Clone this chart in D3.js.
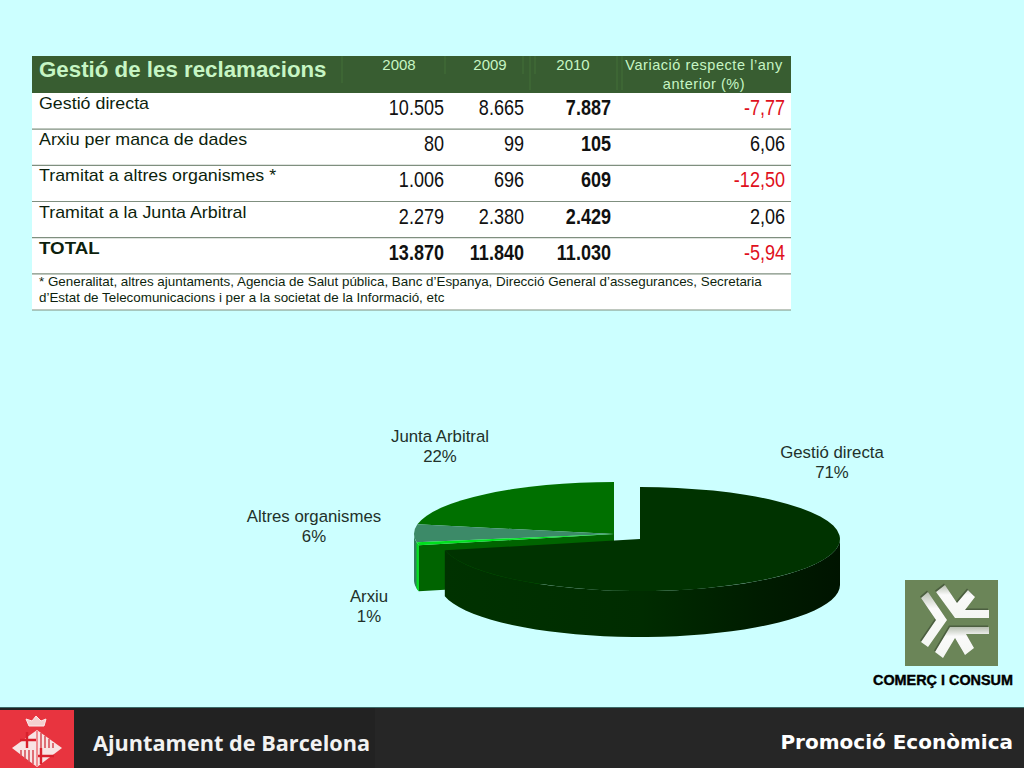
<!DOCTYPE html>
<html><head><meta charset="utf-8">
<script src="https://cdn.jsdelivr.net/npm/d3@7"></script>
<style>html,body{margin:0;padding:0;background:#ccffff;overflow:hidden}svg{display:block}text{font-family:"Liberation Sans",Arial,sans-serif}</style>
</head><body><svg id="c" width="1024" height="768"></svg>
<script>
const title = "Gestió de les reclamacions";
const years = ["2008","2009","2010"];
const varHeader = ["Variació respecte l’any","anterior (%)"];
const rowLabels = ["Gestió directa","Arxiu per manca de dades","Tramitat a altres organismes *","Tramitat a la Junta Arbitral","TOTAL"];
const v2008 = [10505,80,1006,2279,13870];
const v2009 = [8665,99,696,2380,11840];
const v2010 = [7887,105,609,2429,11030];
const variation = [-7.77,6.06,-12.50,2.06,-5.94];
const footnote = ["* Generalitat, altres ajuntaments, Agencia de Salut pública, Banc d’Espanya, Direcció General d’assegurances, Secretaria","d’Estat de Telecomunicacions i per a la societat de la Informació, etc"];
const pieNames = ["Gestió directa","Arxiu","Altres organismes","Junta Arbitral"];
const piePct = ["71%","1%","6%","22%"];
const pieValues = [7887,105,609,2429];
const pieColors = ["#003300","#00e01e","#3c8a68","#007000"];

const svg = d3.select("#c");
const loc = d3.formatLocale({decimal:",",thousands:".",grouping:[3],currency:["","€"],minus:"-"});
const fInt = loc.format(",d"), fDec = loc.format(".2f");

// table
const T = svg.append("g");
const X0=32, X1=791;
const rowY = d3.scaleLinear().domain([0,6]).range([93,310]);
T.append("rect").attr("x",X0).attr("y",93).attr("width",X1-X0).attr("height",217).attr("fill","#fff");
T.append("rect").attr("x",X0).attr("y",56).attr("width",X1-X0).attr("height",37).attr("fill","#385d31");
[[342,83],[445,74],[523,74],[530,90],[535,74],[617,90],[622,90]].forEach(([x,y2])=>T.append("line").attr("x1",x).attr("x2",x).attr("y1",56).attr("y2",y2).attr("stroke","#427038").attr("stroke-width",1));
T.append("text").attr("x",39).attr("y",77).attr("font-size",22.3).attr("font-weight","bold").attr("fill","#c6f5c4").text(title);
const yearX=[399,490,573];
years.forEach((y,i)=>T.append("text").attr("x",yearX[i]).attr("y",70).attr("text-anchor","middle").attr("font-size",15).attr("fill","#c6f5c4").text(y));
varHeader.forEach((t,i)=>T.append("text").attr("x",704).attr("y",[70,89][i]).attr("text-anchor","middle").attr("font-size",14.5).attr("letter-spacing",.55).attr("fill","#c6f5c4").text(t));
d3.range(1,7).forEach(i=>T.append("line").attr("x1",X0).attr("x2",X1).attr("y1",rowY(i)).attr("y2",rowY(i)).attr("stroke","#7f8f7f").attr("stroke-width",1.2));
const cell=(x,y,txt,bold,col)=>T.append("text").attr("transform",`translate(${x},${y}) scale(.82,1)`).attr("text-anchor","end").attr("font-size",22).attr("font-weight",bold?"bold":"normal").attr("fill",col).text(txt);
rowLabels.forEach((l,i)=>{
  const y=rowY(i), tot=i===4;
  T.append("text").attr("transform",`translate(39,${y+16}) scale(${tot?1.17:1.115},1)`).attr("font-size",16).attr("font-weight",tot?"bold":"normal").attr("fill","#0d1f0d").text(l);
  [[v2008,444,tot],[v2009,524,tot],[v2010,611,true]].forEach(([a,x,b])=>cell(x,y+22,fInt(a[i]),b,"#111"));
  cell(785,y+22,fDec(variation[i]),false,variation[i]<0?"#e0101c":"#111");
});
footnote.forEach((t,i)=>T.append("text").attr("x",39).attr("y",286+i*16).attr("font-size",13.4).attr("fill","#0d1f0d").text(t));

// pie
const arcs = d3.pie().sort(null).value(d=>d)(pieValues);
const RX=200, RY=52, D=46;
const px=d3.scaleLinear().domain([-1,1]).range([-RX,RX]);
const py=d3.scaleLinear().domain([-1,1]).range([-RY,RY]);
const unit=d3.arc().innerRadius(0).outerRadius(1);
const wall=(a0,a1)=>{
  const pts=d3.range(0,41).map(k=>a0+(a1-a0)*k/40).map(a=>[px(Math.sin(a)),py(-Math.cos(a))]);
  const line=d3.line();
  return line(pts)+"L"+line(pts.slice().reverse().map(p=>[p[0],p[1]+D])).slice(1)+"Z";
};
const scaleT=`scale(${RX},${RY})`;
const defs=svg.append("defs");
const gr=defs.append("linearGradient").attr("id","side");
[[0,"#003200"],[.5,"#002c00"],[.8,"#001c00"],[1,"#001400"]].forEach(s=>gr.append("stop").attr("offset",s[0]).attr("stop-color",s[1]));

const rest=svg.append("g").attr("transform","translate(614,534)");
const [dir,arx,alt,jun]=arcs;
const pt=a=>[px(Math.sin(a)),py(-Math.cos(a))];
const e=pt(arx.startAngle);
rest.append("path").attr("d",d3.line()([[0,0],e,[e[0],e[1]+D],[0,D]])+"Z").attr("fill","#006400");
rest.append("path").attr("d",wall(arx.startAngle,Math.PI*1.5)).attr("fill","#2f7f5c");
rest.append("path").attr("d",wall(arx.startAngle,arx.endAngle)).attr("fill",pieColors[1]);
[jun,alt,arx].forEach(s=>rest.append("path").attr("d",unit(s)).attr("transform",scaleT).attr("fill",pieColors[s.index]));

const main=svg.append("g").attr("transform","translate(640,539)");
main.append("path").attr("d",wall(Math.PI/2,dir.endAngle)).attr("fill","url(#side)");
main.append("path").attr("d",unit(dir)).attr("transform",scaleT).attr("fill",pieColors[0]);

// pie labels
const labelPos=[[832,458],[369,602],[314,522],[440,442]];
pieNames.forEach((n,i)=>{
  const g=svg.append("g").attr("text-anchor","middle").attr("font-size",16.8).attr("fill","#22312a");
  g.append("text").attr("x",labelPos[i][0]).attr("y",labelPos[i][1]).text(n);
  g.append("text").attr("x",labelPos[i][0]).attr("y",labelPos[i][1]+20).text(piePct[i]);
});

// logo
const L=svg.append("g");
L.append("rect").attr("x",905).attr("y",580).attr("width",93).attr("height",86).attr("fill","#6b8558");
const logoShapes=["M921 598L928 592L947 620L928 647L921 642L936 620Z","M936 592L945 585L957 603L968 590L975 597L965 610L989 610L989 618L955 618Z","M950 627L989 627L989 634L966 634L974 648L965 655L955 638L943 658L935 652Z"];
const lg=defs.append("linearGradient").attr("id","lg").attr("x1",0).attr("x2",0).attr("y1",0).attr("y2",1);
lg.append("stop").attr("offset",0).attr("stop-color","#b8c0b2");lg.append("stop").attr("offset",.3).attr("stop-color","#fafafa");lg.append("stop").attr("offset",1).attr("stop-color","#f4f6f2");
logoShapes.forEach(d=>{
  L.append("path").attr("d",d).attr("transform","translate(-1,-1.5)").attr("fill","#4c5f40");
  L.append("path").attr("d",d).attr("fill","url(#lg)");
});
L.append("text").attr("x",943).attr("y",685).attr("text-anchor","middle").attr("font-size",14.4).attr("font-weight","bold").attr("fill","#000").attr("stroke","#000").attr("stroke-width",.4).text("COMERÇ I CONSUM");

// footer
const F=svg.append("g");
F.append("rect").attr("x",0).attr("y",707).attr("width",1024).attr("height",1).attr("fill","#3c6a68");
F.append("rect").attr("x",0).attr("y",708).attr("width",1024).attr("height",60).attr("fill","#222");
F.append("rect").attr("x",375).attr("y",708).attr("width",649).attr("height",60).attr("fill","#262626");
F.append("rect").attr("x",0).attr("y",710).attr("width",74).attr("height",58).attr("fill","#e8343f");
F.append("path").attr("d","M37 730L62 748L37 767L12 748Z").attr("fill","#f8e4e4");
F.append("path").attr("d","M37 731V766").attr("stroke","#e8343f").attr("stroke-width",1);
F.append("path").attr("d","M27 732V748M20 740H36M41 748V764M38 756H54").attr("stroke","#d8202c").attr("stroke-width",2.4);
F.append("path").attr("d","M41 733V748M45 736V748M49 739V748M53 743V748M21 750V756M25 750V759M29 750V762M33 750V764").attr("stroke","#d8505a").attr("stroke-width",1.6);
F.append("path").attr("d","M29 726L26 719L32 721L36 716L41 721L46 719L44 726Z").attr("fill","#f4cfcf").attr("stroke","#fbeaea").attr("stroke-width",1);
F.append("text").attr("x",93).attr("y",751).attr("font-size",21.7).attr("font-weight","bold").style("font-family","'Open Sans','Noto Sans',sans-serif").attr("fill","#f2f2f2").text("Ajuntament de Barcelona");
F.append("text").attr("x",1013).attr("y",749).attr("text-anchor","end").attr("font-size",20).attr("font-weight","bold").style("font-family","'DejaVu Sans',sans-serif").attr("fill","#fff").text("Promoció Econòmica");
</script></body></html>
